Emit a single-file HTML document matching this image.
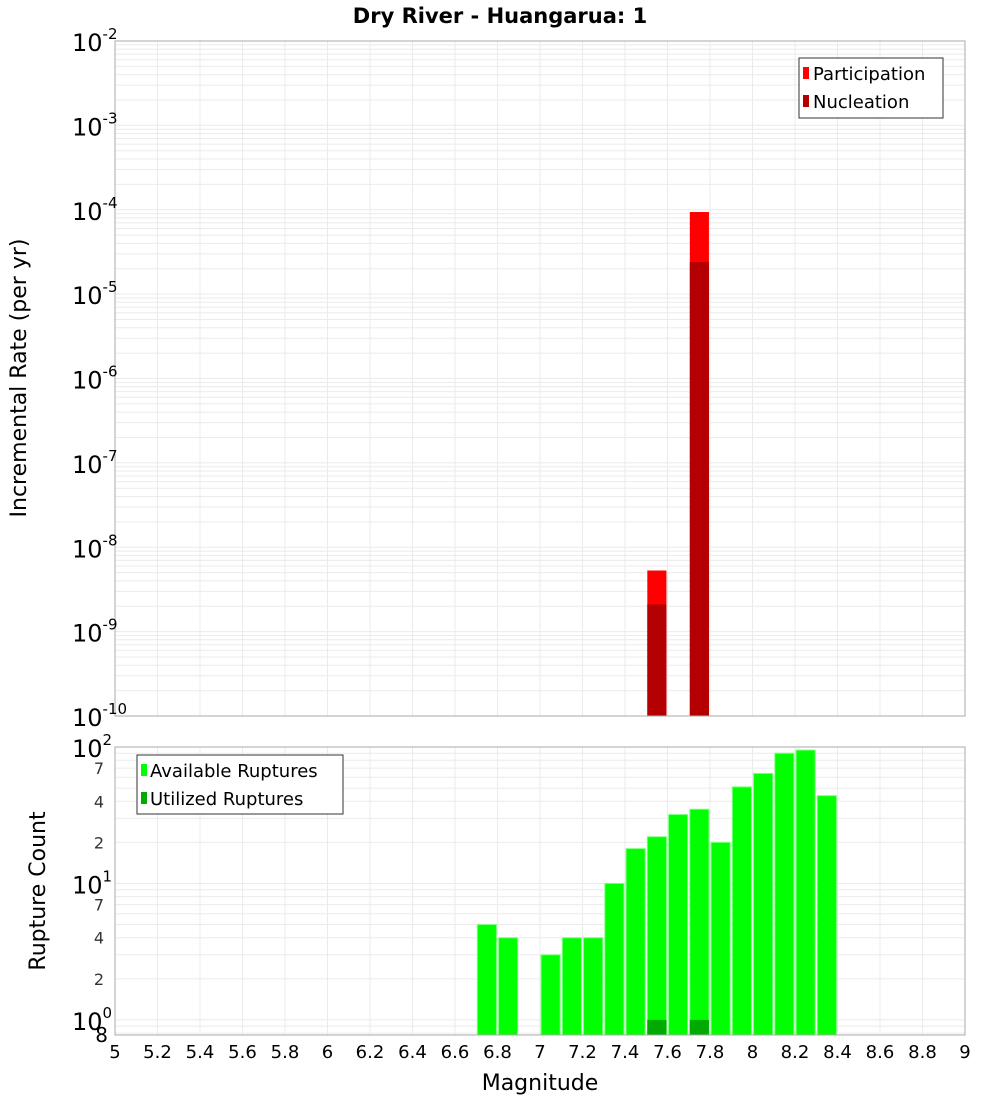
<!DOCTYPE html>
<html><head><meta charset="utf-8"><style>
body{margin:0;background:#fff;font-family:"Liberation Sans","DejaVu Sans",sans-serif}
svg text{font-family:"DejaVu Sans","Liberation Sans",sans-serif}
</style></head><body>
<svg id="chart" width="1000" height="1100" xmlns="http://www.w3.org/2000/svg">
<text x="500" y="23" text-anchor="middle" font-size="21" font-weight="bold">Dry River - Huangarua: 1</text>
<g id="grid"></g><g id="bars"></g><g id="axes"></g>
<text transform="translate(26,378) rotate(-90)" text-anchor="middle" font-size="22">Incremental Rate (per yr)</text>
<text transform="translate(45,891) rotate(-90)" text-anchor="middle" font-size="22">Rupture Count</text>
<text x="540" y="1090" text-anchor="middle" font-size="22">Magnitude</text>
<g>
<rect x="799" y="58" width="144" height="60" fill="#fff" stroke="#333"/>
<rect x="803" y="67" width="6" height="12" fill="#ff0000"/>
<text x="813" y="80" font-size="18">Participation</text>
<rect x="803" y="95" width="6" height="12" fill="#b40000"/>
<text x="813" y="108" font-size="18">Nucleation</text>
</g>
<g>
<rect x="137" y="755" width="206" height="59" fill="#fff" stroke="#333"/>
<rect x="141" y="764" width="6" height="12" fill="#00ff00"/>
<text x="150" y="777" font-size="18">Available Ruptures</text>
<rect x="141" y="792" width="6" height="12" fill="#00aa00"/>
<text x="150" y="805" font-size="18">Utilized Ruptures</text>
</g>
</svg>
<script>
const rateMags=[7.55,7.75];
const participation=[5.3e-9,9.4e-5];
const nucleation=[2.1e-9,2.4e-5];
const countMags=[6.75,6.85,7.05,7.15,7.25,7.35,7.45,7.55,7.65,7.75,7.85,7.95,8.05,8.15,8.25,8.35];
const available=[5,4,3,4,4,10,18,22,32,35,20,51,64,90,95,44];
const utilizedMags=[7.55,7.75];
const utilized=[1,1];
const xTicks=[5,5.2,5.4,5.6,5.8,6,6.2,6.4,6.6,6.8,7,7.2,7.4,7.6,7.8,8,8.2,8.4,8.6,8.8,9];
const topExps=[-2,-3,-4,-5,-6,-7,-8,-9,-10];
const botMinor=[2,4,7,20,40,70];

const NS="http://www.w3.org/2000/svg";
const L=115,R=965,T1=41,B1=716,T2=747,B2=1035;
const X=m=>L+(m-5)/4*(R-L);
const Y1=v=>T1+(-2-Math.log10(v))/8*(B1-T1);
const bMin=0.775;
const Y2=v=>T2+(2-Math.log10(v))/(2-Math.log10(bMin))*(B2-T2);
function mk(tag,attrs,parent,txt){const e=document.createElementNS(NS,tag);for(const k in attrs)e.setAttribute(k,attrs[k]);if(txt!==undefined)e.textContent=txt;document.getElementById(parent).appendChild(e);return e;}
// grids
for(let d=-10;d<-2;d++)for(let k=1;k<10;k++){const y=Y1(k*Math.pow(10,d));const e=mk('line',{x1:L,x2:R,y1:y,y2:y,stroke:'#ebebeb'},'grid');

}
for(let d=-1;d<2;d++)for(let k=1;k<10;k++){const v=k*Math.pow(10,d);if(v<bMin||v>100)continue;const y=Y2(v);const e=mk('line',{x1:L,x2:R,y1:y,y2:y,stroke:'#ebebeb'},'grid');

}
xTicks.forEach(t=>{const x=X(t);const a=mk('line',{x1:x,x2:x,y1:T1,y2:B1,stroke:'#ebebeb'},'grid');


const b=mk('line',{x1:x,x2:x,y1:T2,y2:B2,stroke:'#ebebeb'},'grid');


const t2=mk('text',{x:x,y:1058,'text-anchor':'middle','font-size':18},'axes',String(t));

});
// bars
const w=0.09;
rateMags.forEach((m,i)=>{const p=mk('rect',{x:X(m-w/2),y:Y1(participation[i]),width:X(m+w/2)-X(m-w/2),height:B1-Y1(participation[i]),fill:'#ff0000'},'bars');


const n=mk('rect',{x:X(m-w/2),y:Y1(nucleation[i]),width:X(m+w/2)-X(m-w/2),height:B1-Y1(nucleation[i]),fill:'#b40000'},'bars');

});
countMags.forEach((m,i)=>{const r=mk('rect',{x:X(m-w/2),y:Y2(available[i]),width:X(m+w/2)-X(m-w/2),height:B2-Y2(available[i]),fill:'#00ff00',stroke:'#7fff7f','stroke-width':1},'bars');

});
utilizedMags.forEach((m,i)=>{const r=mk('rect',{x:X(m-w/2),y:Y2(utilized[i]),width:X(m+w/2)-X(m-w/2),height:B2-Y2(utilized[i]),fill:'#00aa00'},'bars');

});
// frames
[[T1,B1],[T2,B2]].forEach(([t,b])=>{const f=mk('rect',{x:L,y:t,width:R-L,height:b-t,fill:'none',stroke:'#aaa'},'axes');

});
// y labels top
topExps.forEach(e=>{const y=Y1(Math.pow(10,e));const t=mk('text',{x:72,y:y+10,'font-size':24},'axes');


t.innerHTML='10<tspan dy="-12" font-size="15">'+e+'</tspan>';});
[2,1,0].forEach(e=>{const y=Y2(Math.pow(10,e));const t=mk('text',{x:72,y:y+10,'font-size':24},'axes');


t.innerHTML='10<tspan dy="-12" font-size="15">'+e+'</tspan>';});
botMinor.forEach(v=>{const d=String(v)[0];const t=mk('text',{x:104,y:Y2(v)+6,'text-anchor':'end','font-size':16,fill:'#333'},'axes',d);

});
const e8=mk('text',{x:108,y:1042,'text-anchor':'end','font-size':20},'axes','8');


</script>
</body></html>
